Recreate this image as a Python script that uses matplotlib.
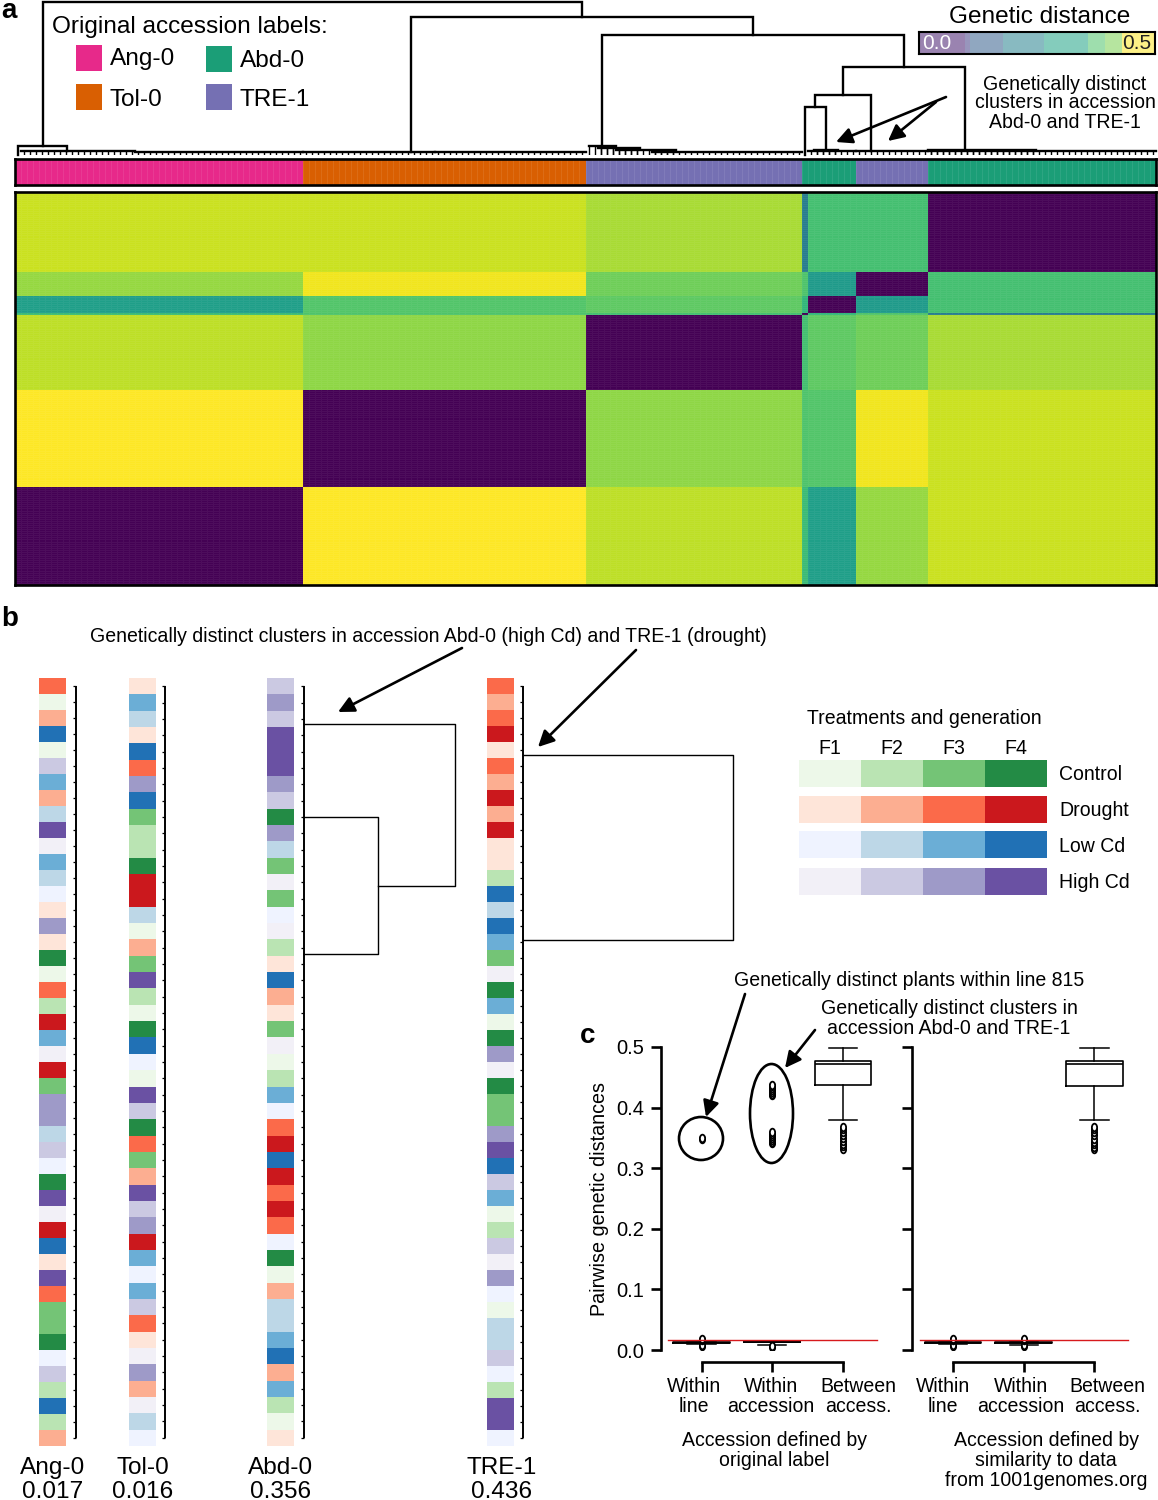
import numpy as np
import matplotlib
matplotlib.use("Agg")
import matplotlib.pyplot as plt
from matplotlib.markers import MarkerStyle
from matplotlib.patches import Ellipse, Rectangle
from matplotlib.transforms import Affine2D

plt.rcParams['font.family'] = ['Liberation Sans', 'DejaVu Sans']

W, H = 1158, 1500

# panel a: clusters, bottom to top in the heatmap, left to right on top
cluster_sizes = [48, 47, 36, 1, 8, 12, 38]
cluster_labels = ['Ang-0', 'Tol-0', 'TRE-1', 'Abd-0', 'Abd-0', 'TRE-1', 'Abd-0']
cluster_dist = [
    [0.000, 0.500, 0.450, 0.340, 0.280, 0.420, 0.460],
    [0.500, 0.000, 0.415, 0.360, 0.365, 0.490, 0.460],
    [0.450, 0.415, 0.000, 0.350, 0.375, 0.390, 0.435],
    [0.340, 0.360, 0.350, 0.000, 0.330, 0.360, 0.210],
    [0.280, 0.365, 0.375, 0.330, 0.000, 0.270, 0.350],
    [0.420, 0.490, 0.390, 0.360, 0.270, 0.000, 0.350],
    [0.460, 0.460, 0.435, 0.210, 0.350, 0.350, 0.000],
]
accession_colors = {'Ang-0': '#e7298a', 'Tol-0': '#d95f02',
                    'Abd-0': '#1b9e77', 'TRE-1': '#7570b3'}
legend_names = ['Ang-0', 'Tol-0', 'Abd-0', 'TRE-1']

cbar_edges = [0, 0.097, 0.108, 0.177, 0.264, 0.358, 0.395, 0.431, 0.5]
cbar_values = [0.04, 0.09, 0.15, 0.22, 0.29, 0.36, 0.40, 0.50]

# dendrogram of panel a: [height, left child, right child], numbers are leaf positions
ang_node = [0.029, 0.5, [0.0125, 8.67, 8.67]]
tree = [0.4935, ang_node,
        [0.445, [0.011, 66, 66],
         [0.387, [0.029, 97.8, 97.8],
          [0.284,
           [0.1935, [0.155, 131.5, [0.016, 135, 135]], [0.012, 142.5, 142.5]],
           [0.016, 158.2, 158.2]]]]]
comb_start = [1, 20, 48, 70, 95.5, 97, 100, 106, 132, 133, 140, 152, 152]
comb_end = [20, 48, 70, 95, 100, 104, 110, 131, 140, 137, 152, 190, 170]
comb_height = [0.0125, 0.011, 0.011, 0.0095, 0.029, 0.024, 0.017, 0.011,
               0.012, 0.016, 0.012, 0.012, 0.016]

# panel b: treatment (C, D, L, H) and generation (1-4) per plant
ang_codes = ['D3', 'C1', 'D2', 'L4', 'C1', 'H2', 'L3', 'D2', 'L2', 'H4', 'H1', 'L3',
             'L2', 'L1', 'D1', 'H3', 'D1', 'C4', 'C1', 'D3', 'C2', 'D4', 'L3', 'H1',
             'D4', 'C3', 'H3', 'H3', 'L2', 'H2', 'L1', 'C4', 'H4', 'H1', 'D4', 'L4',
             'D1', 'H4', 'D3', 'C3', 'C3', 'C4', 'L1', 'H2', 'C2', 'L4', 'C2', 'D2']
tol_codes = ['D1', 'L3', 'L2', 'D1', 'L4', 'D3', 'H3', 'L4', 'C3', 'C2', 'C2', 'C4',
             'D4', 'D4', 'L2', 'C1', 'D2', 'C3', 'H4', 'C2', 'C1', 'C4', 'L4', 'L1',
             'C1', 'H4', 'H2', 'C4', 'D3', 'C3', 'D2', 'H4', 'H2', 'H3', 'D4', 'L3',
             'L1', 'L3', 'H2', 'D3', 'D1', 'H1', 'H3', 'D2', 'H1', 'L2', 'L1']
abd_codes = ['H2', 'H3', 'H2', 'H4', 'H4', 'H4', 'H3', 'H2', 'C4', 'H3', 'L2', 'C3',
             'H1', 'C3', 'L1', 'H1', 'C2', 'D1', 'L4', 'D2', 'D1', 'C3', 'H1', 'C1',
             'C2', 'L3', 'L1', 'D3', 'D4', 'L4', 'D4', 'D3', 'D4', 'D3', 'L1', 'C4',
             'C1', 'D2', 'L2', 'L2', 'L3', 'L4', 'D2', 'L3', 'C2', 'C1', 'D1']
tre_codes = ['D3', 'D2', 'D3', 'D4', 'D1', 'D3', 'D2', 'D4', 'D2', 'D4', 'D1', 'D1',
             'C2', 'L4', 'L2', 'L4', 'L3', 'C3', 'H1', 'C4', 'L3', 'C1', 'C4', 'H3',
             'H1', 'C4', 'C3', 'C3', 'H3', 'H4', 'L4', 'H2', 'L3', 'C1', 'C2', 'H2',
             'H1', 'H3', 'L1', 'C1', 'L2', 'L2', 'H2', 'L1', 'C2', 'H4', 'H4', 'L1']
palette = {'C': ['#edf8e9', '#bae4b3', '#74c476', '#238b45'],
           'D': ['#fee5d9', '#fcae91', '#fb6a4a', '#cb181d'],
           'L': ['#eff3ff', '#bdd7e7', '#6baed6', '#2171b5'],
           'H': ['#f2f0f7', '#cbc9e2', '#9e9ac8', '#6a51a3']}
treatments = ['Control', 'Drought', 'Low Cd', 'High Cd']
generations = ['F1', 'F2', 'F3', 'F4']

strip_names = ['Ang-0', 'Tol-0', 'Abd-0', 'TRE-1']
strip_scores = ['0.017', '0.016', '0.356', '0.436']

# branches beside Abd-0 and TRE-1: leaf rows and node heights
abd_upper_row = 2.3
abd_single_row = 8
abd_lower_row = 16.4
abd_heights = [0.176, 0.356]
tre_upper_row = 4.3
tre_lower_row = 15.9
tre_height = 0.436

# panel c
group_labels = ['Within\nline', 'Within\naccession', 'Between\naccess.']
y_ticks = [0.0, 0.1, 0.2, 0.3, 0.4, 0.5]
reference_line = 0.016
stats_original = [
    dict(whislo=0.0095, q1=0.0115, med=0.012, q3=0.013, whishi=0.0145,
         fliers=[0.0065, 0.009, 0.016, 0.018, 0.348, 0.350]),
    dict(whislo=0.009, q1=0.0125, med=0.013, q3=0.0135, whishi=0.0155,
         fliers=[0.005, 0.007, 0.341, 0.344, 0.347, 0.35, 0.353, 0.356, 0.359,
                 0.42, 0.423, 0.426, 0.429, 0.432, 0.435, 0.438]),
    dict(whislo=0.379, q1=0.437, med=0.472, q3=0.477, whishi=0.498,
         fliers=[0.332, 0.336, 0.34, 0.345, 0.35, 0.355, 0.36, 0.364, 0.368]),
]
stats_similarity = [
    dict(whislo=0.0095, q1=0.0115, med=0.012, q3=0.013, whishi=0.0145,
         fliers=[0.0065, 0.009, 0.016, 0.018]),
    dict(whislo=0.009, q1=0.0115, med=0.012, q3=0.013, whishi=0.0145,
         fliers=[0.006, 0.008, 0.016, 0.018]),
    dict(whislo=0.379, q1=0.435, med=0.472, q3=0.477, whishi=0.498,
         fliers=[0.331, 0.335, 0.34, 0.344, 0.349, 0.354, 0.359, 0.364, 0.368]),
]


def px_axes(x0, y0, x1, y1, **kwargs):
    # axes placed by its pixel box, y counted from the top
    return fig.add_axes([x0 / W, 1 - y1 / H, (x1 - x0) / W, (y1 - y0) / H], **kwargs)


def hide_axes(ax):
    ax.set_xticks([])
    ax.set_yticks([])
    for s in ax.spines.values():
        s.set_visible(False)


def frame(ax, lw=1.9):
    ax.set_xticks([])
    ax.set_yticks([])
    for s in ax.spines.values():
        s.set_linewidth(lw)


def draw_tree(ax, node):
    # returns position and height of a node
    if not isinstance(node, list):
        return node, 0
    h, left, right = node
    x1, h1 = draw_tree(ax, left)
    x2, h2 = draw_tree(ax, right)
    if x1 == x2:
        return x1, h
    ax.plot([x1, x1, x2, x2], [h1, h, h, h2], color='k', lw=1.7,
            solid_joinstyle='miter', clip_on=False)
    return (x1 + x2) / 2, h


fig = plt.figure(figsize=(W / 100, H / 100), dpi=100)

# ---- panel a
sizes = np.array(cluster_sizes)
distance = np.repeat(np.repeat(np.array(cluster_dist), sizes, axis=0), sizes, axis=1)
edges = np.arange(distance.shape[0] + 1)

ax_dend = px_axes(15, 0, 1156, 155)
ax_dend.set_xlim(0, 190)
ax_dend.set_ylim(0, 0.5)
hide_axes(ax_dend)
ax_dend.patch.set_alpha(0)
draw_tree(ax_dend, tree)
for start, end, h in zip(comb_start, comb_end, comb_height):
    ax_dend.plot([start, end], [h, h], color='k', lw=1.7, clip_on=False)
    ax_dend.vlines(np.arange(int(start), int(end)) + 0.5, 0, h, color='k', lw=1)

ax_labels = px_axes(15, 159, 1156, 185)
strip_colors = np.repeat([accession_colors[c] for c in cluster_labels], sizes)
ax_labels.bar(edges[:-1] + 0.5, 1, width=1, color=strip_colors, edgecolor=strip_colors, lw=0)
ax_labels.vlines(edges[1:-1], 0, 1, color='white', lw=0.4, alpha=0.15)
ax_labels.set_xlim(0, 190)
ax_labels.set_ylim(0, 1)
frame(ax_labels)

ax_heat = px_axes(15, 192, 1156, 585)
ax_heat.pcolormesh(edges, edges, distance, cmap='viridis', vmin=0, vmax=0.5,
                   edgecolors=(1, 1, 1, 0.05), linewidth=0.4)
ax_heat.set_xlim(0, 190)
ax_heat.set_ylim(0, 190)
frame(ax_heat)

ax_cbar = px_axes(919, 32, 1155, 54)
ax_cbar.pcolormesh(cbar_edges, [0, 1], [cbar_values], cmap='viridis', vmin=0, vmax=0.5, alpha=0.55)
ax_cbar.set_xlim(0, 0.5)
frame(ax_cbar, 1.5)
ax_cbar.text(0.012, 0.46, '0.0', color='white', fontsize=15, va='center', transform=ax_cbar.transAxes)
ax_cbar.text(0.985, 0.46, '0.5', color='#222222', fontsize=15, va='center', ha='right',
             transform=ax_cbar.transAxes)

# ---- panel b: strips with their brackets
strip_codes = [ang_codes, tol_codes, abd_codes, tre_codes]
strip_left = [39, 129, 267, 487]
strip_cell = [16.0, 16.34, 16.34, 16.0]
bracket_x = [76, 165, 304, 523]
strip_top = 678
for codes, left, cell, bx in zip(strip_codes, strip_left, strip_cell, bracket_x):
    bottom = strip_top + cell * len(codes)
    ax = px_axes(left, strip_top, left + 27, bottom)
    cols = [palette[c[0]][int(c[1]) - 1] for c in codes]
    ax.barh(np.arange(len(codes)), 1, height=1, color=cols, lw=0)
    ax.set_ylim(len(codes) - 0.5, -0.5)
    ax.set_xlim(0, 1)
    hide_axes(ax)

    ax = px_axes(bx - 4, strip_top, bx + 1, bottom)
    ax.set_ylim(len(codes) - 0.5, -0.5)
    ax.set_xlim(0, 1)
    hide_axes(ax)
    ax.patch.set_alpha(0)
    ax.hlines(np.arange(len(codes)), 0.2, 0.8, color='k', lw=0.9)
    ax.vlines(0.8, 0, len(codes) - 1, color='k', lw=1.4)

# distance branches next to Abd-0 and TRE-1
ax_abd = px_axes(303, strip_top, 460, strip_top + 16.34 * 47)
ax_abd.set_xlim(0, 157 / 427)
ax_abd.set_ylim(46.5, -0.5)
hide_axes(ax_abd)
ax_abd.patch.set_alpha(0)
inner_row = (abd_single_row + abd_lower_row) / 2
ax_abd.plot([0, abd_heights[1], abd_heights[1], abd_heights[0]],
            [abd_upper_row, abd_upper_row, inner_row, inner_row], color='k', lw=1)
ax_abd.plot([0, abd_heights[0], abd_heights[0], 0],
            [abd_single_row, abd_single_row, abd_lower_row, abd_lower_row], color='k', lw=1)

ax_tre = px_axes(523, strip_top, 740, strip_top + 16.0 * 48)
ax_tre.set_xlim(0, 217 / 482)
ax_tre.set_ylim(47.5, -0.5)
hide_axes(ax_tre)
ax_tre.patch.set_alpha(0)
ax_tre.plot([0, tre_height, tre_height, 0],
            [tre_upper_row, tre_upper_row, tre_lower_row, tre_lower_row], color='k', lw=1)

# ---- panel c
flier_marker = MarkerStyle('o', transform=Affine2D().scale(0.75, 1.1))
for x0, stats in zip([660.5, 912], [stats_original, stats_similarity]):
    ax = px_axes(x0, 1047, x0 + 220, 1350)
    unit = 70.7
    ax.set_xlim(1 - (41 / unit), 1 - (41 / unit) + 220 / unit)
    ax.set_ylim(0, 0.5)
    ax.patch.set_alpha(0)
    ax.bxp(stats, positions=[1, 2, 3], widths=0.8, capwidths=0.4, showfliers=True,
           boxprops=dict(color='k', lw=1.2), whiskerprops=dict(color='k', lw=1.1),
           capprops=dict(color='k', lw=1.1), medianprops=dict(color='k', lw=1.2),
           flierprops=dict(marker=flier_marker, markersize=5, markerfacecolor='white',
                           markeredgecolor='k', markeredgewidth=1.3),
           manage_ticks=False)
    ax.plot([0.53, 3.48], [reference_line, reference_line], color='#d7191c', lw=1, zorder=5)
    for s in ['top', 'right']:
        ax.spines[s].set_visible(False)
    ax.spines['left'].set_linewidth(1.9)
    ax.spines['bottom'].set_linewidth(1.9)
    ax.spines['bottom'].set_position(('outward', 8.6))
    ax.spines['bottom'].set_bounds(1, 3)
    ax.set_xticks([1, 2, 3])
    ax.set_xticklabels([])
    ax.tick_params(axis='x', length=7, width=1.9, direction='out')
    ax.set_yticks(y_ticks)
    ax.tick_params(axis='y', length=7, width=1.9, direction='out', labelsize=14.5, pad=5)
    if x0 < 700:
        ax.set_yticklabels(['%.1f' % v for v in y_ticks])
        ax.set_ylabel('Pairwise genetic distances', fontsize=14.2, labelpad=5)
    else:
        ax.set_yticklabels([])

# ---- text, arrows and legends, in pixel coordinates
ov = fig.add_axes([0, 0, 1, 1], zorder=20)
ov.set_xlim(0, W)
ov.set_ylim(H, 0)
ov.axis('off')
ov.patch.set_alpha(0)


def txt(x, y, s, size=14.05, ha='center', **kw):
    # y is the visual centre of the text, va center sits about 2 px high
    ov.text(x, y + 2, s, fontsize=size, ha=ha, va='center', **kw)


def arrow(x0, y0, x1, y1):
    ov.annotate('', xy=(x1, y1), xytext=(x0, y0),
                arrowprops=dict(arrowstyle='-|>', color='k', lw=1.9, mutation_scale=24,
                                shrinkA=0, shrinkB=0))


txt(1, 9, 'a', 20, ha='left', fontweight='bold')
txt(1, 617, 'b', 20, ha='left', fontweight='bold')
txt(580, 1034, 'c', 20, ha='left', fontweight='bold')

txt(52, 25, 'Original accession labels:', 17.6, ha='left')
for name, x, y, ty in zip(legend_names, [76, 76, 206, 206], [45, 84, 46, 84], [57, 98, 59, 98]):
    ov.add_patch(Rectangle((x, y), 26, 26, color=accession_colors[name], lw=0))
    txt(x + 34, ty, name, 17.6, ha='left')
txt(1040, 15, 'Genetic distance', 17.6)
txt(1065, 82, 'Genetically distinct')
txt(1065, 101, 'clusters in accession')
txt(1065, 121, 'Abd-0 and TRE-1')
arrow(946, 97, 836, 142)
arrow(936, 102, 888, 141)

txt(428, 635, 'Genetically distinct clusters in accession Abd-0 (high Cd) and TRE-1 (drought)')
arrow(462, 648, 338, 712)
arrow(636, 650, 538, 747)

for name, score, x in zip(strip_names, strip_scores, [53, 143, 281, 502]):
    txt(x, 1466, name, 17.6)
    txt(x, 1490, score, 17.6)

txt(924, 716, 'Treatments and generation')
cell_edges = [799, 861, 923, 985, 1047]
row_tops = [760, 796, 831, 868]
for key, label, y in zip('CDLH', treatments, row_tops):
    for g in range(4):
        ov.add_patch(Rectangle((cell_edges[g], y), cell_edges[g + 1] - cell_edges[g], 27,
                               color=palette[key][g], lw=0))
    txt(1059, y + 13, label, ha='left')
for g, label in enumerate(generations):
    txt((cell_edges[g] + cell_edges[g + 1]) / 2, 746, label)

txt(909, 979, 'Genetically distinct plants within line 815')
txt(949, 1007, 'Genetically distinct clusters in')
txt(949, 1027, 'accession Abd-0 and TRE-1')
arrow(745, 994, 706, 1117)
arrow(815, 1030, 785, 1068)
ov.add_patch(Ellipse((701, 1138.5), 44, 43, fill=False, ec='k', lw=1.9))
ov.add_patch(Ellipse((771.5, 1113.5), 43, 99, fill=False, ec='k', lw=1.9))

for xs in ([694, 771, 858], [943, 1021, 1107]):
    for x, label in zip(xs, group_labels):
        first, second = label.split('\n')
        txt(x, 1385, first)
        txt(x, 1405, second)
txt(774, 1439, 'Accession defined by')
txt(774, 1459, 'original label')
txt(1046, 1439, 'Accession defined by')
txt(1046, 1459, 'similarity to data')
txt(1046, 1479, 'from 1001genomes.org')

fig.savefig('out.png', dpi=100)
